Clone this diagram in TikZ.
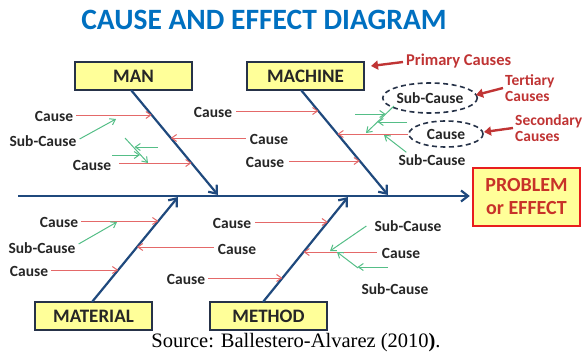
\documentclass[tikz,border=0pt]{standalone}
\usepackage{fontspec}
\setmainfont{Carlito}
\newfontfamily\srcfont{Liberation Serif}
\usetikzlibrary{arrows.meta,shapes.geometric,calc}
\definecolor{bonec}{RGB}{31,73,125}
\definecolor{redc}{RGB}{228,105,105}
\definecolor{grnc}{RGB}{85,190,135}
\definecolor{labred}{RGB}{192,52,52}
\definecolor{titleblue}{RGB}{0,112,192}
\definecolor{boxfill}{RGB}{255,255,153}
\definecolor{boxborder}{RGB}{38,50,72}
\definecolor{probborder}{RGB}{232,30,30}
\definecolor{probtext}{RGB}{200,50,40}
\begin{document}
\begin{tikzpicture}[x=1pt,y=-1pt,
  lbl/.style={font=\fontsize{15.5}{16}\selectfont\bfseries, text=black!85, inner sep=0pt},
  redlbl/.style={font=\fontsize{15.5}{16}\selectfont\bfseries, text=labred, inner sep=0pt, align=left},
  catbox/.style={draw=boxborder, line width=1.8pt, fill=boxfill, minimum width=117pt, minimum height=28pt, inner sep=0pt, font=\fontsize{19}{20}\selectfont\bfseries, text=black!85},
  probbox/.style={draw=probborder, line width=2.4pt, fill=boxfill, minimum width=107pt, minimum height=58pt, inner sep=0pt, align=center, font=\fontsize{20}{23}\selectfont\bfseries, text=probtext},
  ell/.style={ellipse, draw=boxborder, line width=1.6pt, dash pattern=on 5pt off 3.5pt, inner sep=0pt, font=\fontsize{15.5}{16}\selectfont\bfseries, text=black!85},
  bone/.style={draw=bonec, line width=2.2pt, -{Straight Barb[length=7pt,width=11pt]}},
  redarr/.style={draw=redc, line width=1pt, -{Straight Barb[length=5pt,width=7pt]}},
  grnarr/.style={draw=grnc, line width=1pt, -{Straight Barb[length=5pt,width=7pt]}},
  annarr/.style={draw=labred, line width=2.4pt, -{Triangle[length=7pt,width=9pt]}}
]
\useasboundingbox (0,0) rectangle (584,356);

% title
\node[font=\fontsize{29.5}{32}\selectfont\bfseries, text=titleblue, inner sep=0pt] (title) at (264,20) {CAUSE AND EFFECT DIAGRAM};

% category boxes
\node[catbox] (man) at (133.5,76) {MAN};
\node[catbox] (mach) at (305.5,76) {MACHINE};
\node[catbox] (mat) at (93.5,316) {MATERIAL};
\node[catbox] (meth) at (268.5,316) {METHOD};
\node[probbox] (prob) at (526.5,197) {PROBLEM\\or EFFECT};

% spine and bones
\coordinate (spineL) at (18,196);
\draw[bone, shorten >=2pt] (spineL) -- (prob.west |- spineL);
\coordinate (manS) at (131,90);   \coordinate (manT) at (218,195);
\coordinate (machS) at (301,90);  \coordinate (machT) at (388,195);
\coordinate (matS) at (92,302);   \coordinate (matT) at (178,197);
\coordinate (methS) at (263,302); \coordinate (methT) at (348,197);
\draw[bone] (manS) -- (manT);
\draw[bone] (machS) -- (machT);
\draw[bone] (matS) -- (matT);
\draw[bone] (methS) -- (methT);

% points on bones
\coordinate (manA) at (151.7,115);
\coordinate (manB) at (170.8,138);
\coordinate (manC) at (191.5,163);
\coordinate (machA) at (318.4,111);
\coordinate (machB) at (337.5,134);
\coordinate (machC) at (359.8,161);
\coordinate (matA) at (158.3,221);
\coordinate (matB) at (137,247);
\coordinate (matC) at (118.2,270);
\coordinate (methA) at (327.8,222);
\coordinate (methB) at (303.5,252);
\coordinate (methC) at (282.4,278);

% MAN side labels
\node[lbl] (c1) at (54,116) {Cause};
\draw[redarr] ($(c1.east)+(3,-1)$) -- (manA);
\node[lbl] (s1) at (43,141) {Sub-Cause};
\coordinate (s1tip) at (116,119);
\draw[grnarr] ($(s1.east)+(3,-2)$) -- (s1tip);
\node[lbl] (c2) at (92,165) {Cause};
\draw[redarr] ($(c2.east)+(8,-2)$) -- (manC);
\coordinate (g1a) at (125,138); \coordinate (g1b) at (148,163);
\draw[grnarr] (g1a) -- (g1b);
\coordinate (g1r) at (158,147); \coordinate (g1rt) at (134.5,147);
\draw[grnarr] (g1r) -- (g1rt);
\coordinate (g1l) at (112,155); \coordinate (g1lt) at (140,155);
\draw[grnarr] (g1l) -- (g1lt);

% middle-top labels
\node[lbl] (c3) at (213,112) {Cause};
\draw[redarr] ($(c3.east)+(4,-1)$) -- (machA);
\node[lbl] (c4) at (269,139) {Cause};
\draw[redarr] ($(c4.west)+(-4,-1)$) -- (manB);
\node[lbl] (c5) at (265,162) {Cause};
\draw[redarr] ($(c5.east)+(5,-1)$) -- (machC);

% right of machine bone
\node[ell, minimum width=86pt, minimum height=30pt] (subc) at (430,98) {Sub-Cause};
\node[ell, minimum width=74pt, minimum height=26pt] (cse) at (446,134) {Cause};
\draw[redarr] (cse.west) -- (machB);
\coordinate (g2a) at (394,106); \coordinate (g2b) at (366,133);
\draw[grnarr] (g2a) -- (g2b);
\coordinate (g2l) at (355,114); \coordinate (g2lt) at (385.5,114);
\draw[grnarr] (g2l) -- (g2lt);
\coordinate (g2r) at (407,122); \coordinate (g2rt) at (377.5,122);
\draw[grnarr] (g2r) -- (g2rt);
\node[lbl] (s2) at (432,160) {Sub-Cause};
\coordinate (s2tip) at (384,135);
\draw[grnarr] ($(s2.north west)+(8,-2)$) -- (s2tip);

% annotations
\node[redlbl, anchor=west, font=\fontsize{16.5}{17}\selectfont\bfseries] (prim) at (406,61) {Primary Causes};
\coordinate (primtip) at (371,66);
\draw[annarr] ($(prim.west)+(-3,1)$) -- (primtip);
\node[redlbl, anchor=west] (tert) at (505,88) {Tertiary\\Causes};
\coordinate (terttip) at (476,95);
\draw[annarr] ($(tert.west)+(-2,0)$) -- (terttip);
\node[redlbl, anchor=west] (sec) at (515,128) {Secondary\\Causes};
\coordinate (sectip) at (484,132);
\draw[annarr] ($(sec.west)+(-2,0)$) -- (sectip);

% MATERIAL side labels
\node[lbl] (c6) at (59,222) {Cause};
\draw[redarr] ($(c6.east)+(3,-1)$) -- (matA);
\node[lbl] (s3) at (42,248) {Sub-Cause};
\coordinate (s3tip) at (117,222);
\draw[grnarr] ($(s3.east)+(3,-4)$) -- (s3tip);
\node[lbl] (c7) at (29,271) {Cause};
\draw[redarr] ($(c7.east)+(3,-1)$) -- (matC);
\node[lbl] (c8) at (237,249) {Cause};
\draw[redarr] ($(c8.west)+(-4,-2)$) -- (matB);

% METHOD side labels
\node[lbl] (c9) at (232,223) {Cause};
\draw[redarr] ($(c9.east)+(4,-1)$) -- (methA);
\node[lbl] (c10) at (186,279) {Cause};
\draw[redarr] ($(c10.east)+(3,-1)$) -- (methC);
\node[lbl] (s4) at (408,226) {Sub-Cause};
\coordinate (s4tip) at (330,251);
\draw[grnarr] ($(s4.west)+(-8,0)$) -- (s4tip);
\node[lbl] (c11) at (401,253) {Cause};
\draw[redarr] ($(c11.west)+(-5,-1)$) -- (methB);
\coordinate (g3a) at (358,268); \coordinate (g3b) at (337,252);
\draw[grnarr] (g3a) -- (g3b);
\coordinate (g3r) at (388,267); \coordinate (g3rt) at (357.5,267);
\draw[grnarr] (g3r) -- (g3rt);
\node[lbl] (s5) at (395,289) {Sub-Cause};

% source
\node[font=\srcfont\fontsize{20.5}{22}\selectfont, inner sep=0pt] (src) at (296,343) {Source: Ballestero-Alvarez (2010\textbf{)}.};
\end{tikzpicture}
\end{document}
